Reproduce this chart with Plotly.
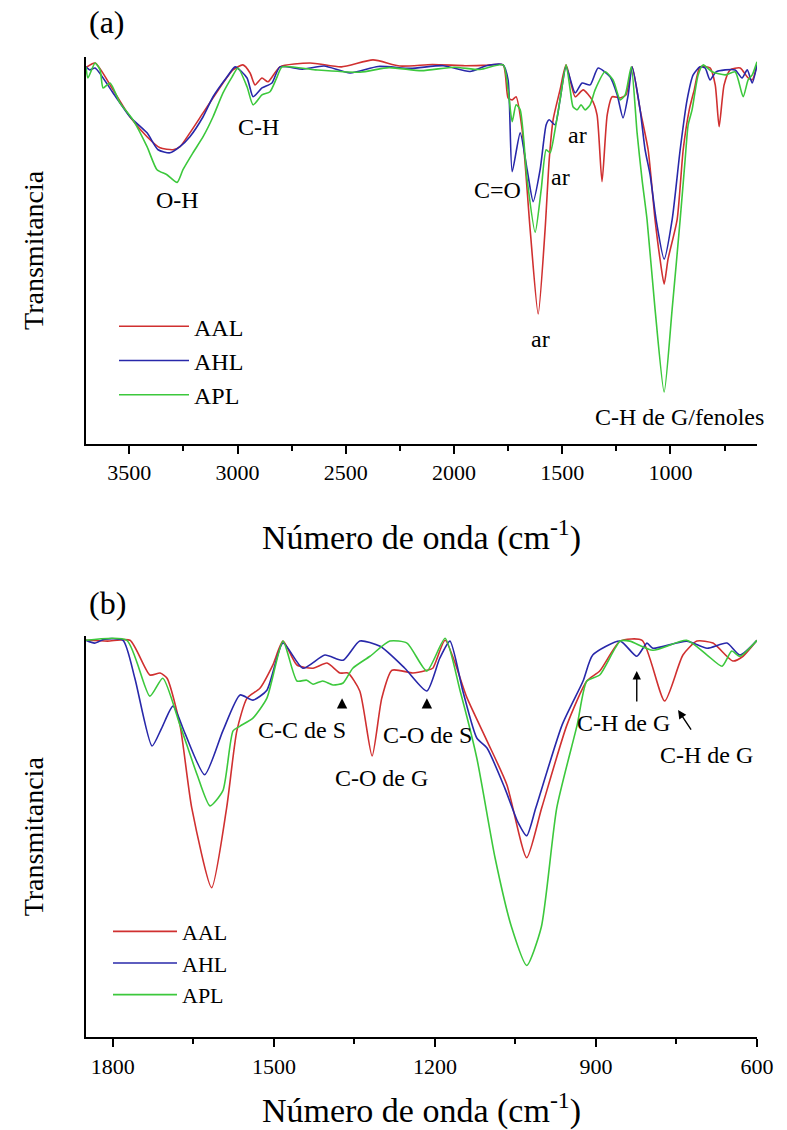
import plotly.graph_objects as go

# ---------------- FTIR spectra, panel (a): 3700-600 cm-1 ----------------
a_aal_wn = [3700, 3658, 3575, 3497, 3418, 3358, 3298, 3266, 3220, 3159, 3113, 3067, 3021, 2975, 2942,
            2919, 2887, 2859, 2804, 2665, 2520, 2374, 2250, 2100, 1950, 1850, 1773, 1750, 1731, 1713,
            1685, 1648, 1611, 1579, 1560, 1542, 1510, 1482, 1440, 1403, 1362, 1339, 1316, 1292, 1269,
            1232, 1205, 1177, 1140, 1103, 1071, 1048, 1029, 1011, 969, 941, 913, 890, 863, 817,
            793, 775, 752, 724, 678, 641, 622, 600]
a_aal_t = [98.0, 99.2, 92.2, 85.2, 80.0, 77.1, 76.6, 77.4, 81.0, 86.2, 90.1, 94.0, 97.4, 98.7, 96.6,
           93.5, 95.3, 94.3, 98.2, 99.2, 98.2, 100.0, 98.4, 98.8, 98.5, 98.6, 98.7, 90.1, 89.6, 90.4,
           81.8, 55.8, 33.8, 55.8, 74.0, 84.4, 92.2, 98.7, 90.4, 92.2, 89.6, 85.7, 68.3, 85.7, 90.4,
           90.1, 90.9, 98.2, 87.0, 76.6, 58.4, 48.1, 41.6, 48.1, 58.4, 76.6, 87.0, 92.2, 98.2, 97.9,
           93.5, 82.6, 93.5, 97.4, 97.9, 95.3, 94.8, 98.7]

a_ahl_wn = [3700, 3682, 3658, 3575, 3497, 3418, 3367, 3312, 3266, 3220, 3159, 3113, 3048, 3011, 2956,
            2928, 2887, 2841, 2804, 2700, 2600, 2480, 2350, 2200, 2050, 1926, 1850, 1773, 1750, 1731,
            1694, 1662, 1634, 1602, 1574, 1560, 1533, 1510, 1482, 1440, 1408, 1371, 1334, 1279, 1246,
            1219, 1195, 1177, 1140, 1117, 1094, 1066, 1029, 992, 955, 923, 895, 863, 840, 817,
            789, 747, 701, 669, 645, 622, 600]
a_ahl_t = [98.2, 97.4, 97.9, 91.4, 85.2, 81.0, 76.6, 75.8, 77.4, 80.0, 85.2, 90.4, 95.6, 98.2, 95.3,
           90.4, 92.7, 94.0, 98.2, 97.6, 98.4, 96.6, 98.3, 97.8, 98.5, 97.0, 98.5, 98.7, 94.8, 70.9,
           81.0, 71.4, 63.1, 71.4, 83.1, 84.4, 83.1, 89.6, 98.2, 91.4, 94.0, 93.5, 97.9, 95.6, 90.9,
           84.9, 90.9, 98.2, 87.0, 76.6, 70.1, 58.4, 48.1, 58.4, 76.6, 89.6, 96.1, 98.2, 97.9, 94.8,
           96.9, 97.4, 97.4, 95.3, 97.4, 94.0, 98.7]

a_apl_wn = [3700, 3691, 3658, 3635, 3621, 3589, 3543, 3483, 3418, 3372, 3326, 3279, 3252, 3206, 3159,
            3113, 3067, 3025, 2998, 2956, 2928, 2887, 2850, 2817, 2794, 2640, 2434, 2300, 2150, 2000,
            1880, 1773, 1750, 1731, 1713, 1694, 1662, 1625, 1597, 1574, 1556, 1533, 1510, 1482, 1463,
            1450, 1431, 1413, 1394, 1371, 1348, 1302, 1265, 1232, 1209, 1181, 1154, 1131, 1108, 1071,
            1029, 992, 955, 932, 918, 900, 872, 849, 807, 747, 701, 664, 641, 622, 600]
a_apl_t = [98.2, 95.3, 99.2, 97.4, 92.7, 94.0, 88.8, 84.4, 77.4, 71.4, 70.1, 68.1, 71.4, 75.8, 80.0,
           85.2, 91.4, 95.6, 97.9, 93.0, 88.3, 90.9, 91.7, 95.6, 98.2, 97.4, 96.8, 98.0, 97.2, 98.1,
           97.5, 98.7, 92.2, 83.9, 88.3, 87.0, 68.8, 55.1, 66.2, 76.6, 75.8, 81.8, 89.6, 98.7, 92.2,
           87.8, 87.0, 88.3, 87.0, 88.3, 92.2, 96.9, 94.8, 89.6, 90.9, 98.2, 81.0, 68.8, 58.4, 35.1,
           13.5, 35.1, 58.4, 74.0, 83.1, 87.0, 96.1, 98.7, 96.9, 96.1, 96.9, 90.4, 94.8, 96.1, 99.5]

# ---------------- FTIR spectra, panel (b): 1850-600 cm-1 ----------------
b_aal_wn = [1850, 1810, 1768, 1731, 1712, 1699, 1675, 1653, 1616, 1588, 1569, 1550, 1526, 1502, 1483,
            1457, 1427, 1401, 1377, 1362, 1340, 1317, 1299, 1280, 1241, 1215, 1204, 1181, 1140, 1103,
            1066, 1029, 1001, 954, 917, 893, 855, 814, 772, 738, 712, 682, 645, 626, 600]
b_aal_t = [99.5, 99.3, 99.5, 90.8, 91.3, 90.0, 78.3, 57.5, 37.5, 57.5, 76.8, 85.0, 87.5, 93.3, 99.3,
           93.3, 92.5, 93.8, 91.3, 91.3, 86.8, 70.5, 85.0, 92.0, 91.3, 92.0, 92.5, 99.5, 85.0, 74.3,
           63.3, 45.0, 57.5, 78.3, 89.3, 91.8, 99.3, 99.5, 84.3, 95.8, 99.3, 98.8, 94.3, 95.5, 99.5]

b_ahl_wn = [1850, 1834, 1815, 1781, 1759, 1727, 1709, 1688, 1666, 1629, 1595, 1563, 1539, 1513, 1483,
            1446, 1405, 1371, 1340, 1302, 1256, 1215, 1191, 1172, 1148, 1122, 1103, 1070, 1045, 1029,
            1012, 963, 924, 906, 855, 824, 805, 794, 731, 693, 656, 632, 600]
b_ahl_t = [99.5, 98.8, 99.8, 99.5, 90.0, 73.0, 77.5, 83.0, 76.3, 65.8, 76.8, 85.8, 84.5, 87.0, 98.8,
           92.5, 95.8, 94.5, 99.3, 98.0, 92.5, 86.8, 95.0, 99.3, 86.8, 75.0, 72.5, 62.5, 53.8, 50.5,
           57.5, 78.3, 89.3, 95.8, 99.3, 95.5, 98.8, 97.5, 99.3, 97.5, 98.8, 95.8, 99.5]

b_apl_wn = [1850, 1774, 1731, 1707, 1675, 1643, 1619, 1595, 1576, 1563, 1539, 1513, 1483, 1457, 1439,
            1427, 1409, 1390, 1371, 1353, 1321, 1284, 1252, 1215, 1181, 1153, 1122, 1088, 1057, 1029,
            1002, 973, 935, 917, 893, 855, 837, 794, 731, 693, 665, 647, 632, 600]
b_apl_t = [99.5, 99.5, 85.5, 90.0, 78.3, 65.8, 58.0, 61.8, 76.8, 78.0, 80.0, 85.0, 99.3, 89.3, 89.5,
           88.5, 89.3, 88.3, 88.8, 92.5, 95.5, 99.3, 98.8, 91.8, 100.0, 86.8, 70.0, 45.0, 27.5, 18.0,
           27.5, 57.5, 78.3, 89.3, 90.8, 99.3, 99.3, 97.0, 99.5, 95.8, 93.0, 96.8, 95.5, 99.5]

series_names = ["AAL", "AHL", "APL"]
series_colors = ["#D03030", "#2828AA", "#3CC83C"]

FONT = "Liberation Serif, Times New Roman, serif"
W, H = 787, 1130

fig = go.Figure()

panel_a = [(a_aal_wn, a_aal_t), (a_ahl_wn, a_ahl_t), (a_apl_wn, a_apl_t)]
panel_b = [(b_aal_wn, b_aal_t), (b_ahl_wn, b_ahl_t), (b_apl_wn, b_apl_t)]

for (wn, t), name, color in zip(panel_a, series_names, series_colors):
    fig.add_trace(go.Scatter(x=wn, y=t, mode="lines", name=name,
                             line=dict(color=color, width=1.6, shape="spline", smoothing=0.6),
                             xaxis="x", yaxis="y", legend="legend", legendgroup="a" + name))
for (wn, t), name, color in zip(panel_b, series_names, series_colors):
    fig.add_trace(go.Scatter(x=wn, y=t, mode="lines", name=name,
                             line=dict(color=color, width=1.6, shape="spline", smoothing=0.6),
                             xaxis="x2", yaxis="y2", legend="legend2", legendgroup="b" + name))


def px(pixel_x):
    """Paper fraction for a pixel column counted from the left of the figure."""
    return pixel_x / W


def py(pixel_y):
    """Paper fraction for a pixel row counted from the top of the figure."""
    return 1 - pixel_y / H


xdom = [px(86), px(757)]
axis_common = dict(showline=True, linecolor="black", linewidth=2, showgrid=False, zeroline=False,
                   mirror=False)
# x axes may only grow the margins vertically: the "600" label at the right end
# must not shrink the plotting area sideways
xt_common = dict(ticks="outside", ticklen=8, tickwidth=2, tickcolor="black", automargin="height",
                 tickfont=dict(family=FONT, size=22, color="black"),
                 title_font=dict(family=FONT, size=34, color="black"))
yt_common = dict(showticklabels=False, ticks="",
                 title_font=dict(family=FONT, size=28, color="black"))

fig.update_layout(
    width=W, height=H, autosize=False,
    margin=dict(l=0, r=0, t=0, b=0),
    paper_bgcolor="white", plot_bgcolor="white",
    font=dict(family=FONT, color="black"),
    xaxis=dict(domain=xdom, anchor="y", range=[3700, 600], tick0=0, dtick=500,
               minor=dict(ticks="outside", ticklen=5, tickwidth=2, tickcolor="black", tick0=0, dtick=250),
               title=dict(text="Número de onda (cm<sup>-1</sup>)", standoff=41),
               **axis_common, **xt_common),
    yaxis=dict(domain=[py(445), py(57)], anchor="x", range=[0, 100.8],
               title=dict(text="Transmitancia", standoff=32), **axis_common, **yt_common),
    xaxis2=dict(domain=xdom, anchor="y2", range=[1850, 600], tick0=0, dtick=300,
                minor=dict(ticks="outside", ticklen=5, tickwidth=2, tickcolor="black", tick0=0, dtick=150),
                title=dict(text="Número de onda (cm<sup>-1</sup>)", standoff=28),
                **axis_common, **xt_common),
    yaxis2=dict(domain=[py(1040), py(638)], anchor="x2", range=[0, 100.5],
                title=dict(text="Transmitancia", standoff=32), **axis_common, **yt_common),
    legend=dict(x=px(114), y=py(305), xanchor="left", yanchor="top",
                bgcolor="rgba(0,0,0,0)", font=dict(family=FONT, size=24, color="black"),
                itemwidth=70, tracegroupgap=0),
    legend2=dict(x=px(108), y=py(913), xanchor="left", yanchor="top",
                 bgcolor="rgba(0,0,0,0)", font=dict(family=FONT, size=22, color="black"),
                 itemwidth=64, tracegroupgap=0),
)

ann_font = dict(family=FONT, size=24, color="black")

# band labels, panel (a)
labels_a = [("O-H", 3275, 63.6), ("C-H", 2905, 82.6), ("C=O", 1801, 66.2), ("ar", 1510, 69.4),
            ("ar", 1427, 80.5), ("ar", 1602, 27.3), ("C-H de G/fenoles", 960, 7.0)]
for text, x, y in labels_a:
    fig.add_annotation(x=x, y=y, xref="x", yref="y", text=text, showarrow=False, font=ann_font)

# band labels, panel (b)
labels_b = [("C-C de S", 1448, 77.0), ("C-O de G", 1299, 65.0), ("C-O de S", 1213, 75.8),
            ("C-H de G", 848, 78.8), ("C-H de G", 695, 70.8)]
for text, x, y in labels_b:
    fig.add_annotation(x=x, y=y, xref="x2", yref="y2", text=text, showarrow=False, font=ann_font)

# pointers, panel (b)
for x, y in [(1373, 85.0), (1215, 85.0)]:
    fig.add_annotation(x=x, y=y, xref="x2", yref="y2", text="", showarrow=True, ax=0, ay=10,
                       arrowhead=2, arrowsize=1.3, arrowwidth=1.6, arrowcolor="black", standoff=0)
fig.add_annotation(x=824, y=91.8, xref="x2", yref="y2", text="", showarrow=True,
                   axref="x2", ayref="y2", ax=824, ay=83.8,
                   arrowhead=2, arrowsize=1.2, arrowwidth=1.4, arrowcolor="black", standoff=0)
fig.add_annotation(x=747, y=82.0, xref="x2", yref="y2", text="", showarrow=True, ax=14, ay=21,
                   arrowhead=2, arrowsize=1.2, arrowwidth=1.4, arrowcolor="black", standoff=0)

# panel letters
fig.add_annotation(x=px(87), y=py(22), xref="paper", yref="paper", text="(a)",
                   showarrow=False, xanchor="left", yanchor="middle",
                   font=dict(family=FONT, size=32, color="black"))
fig.add_annotation(x=px(87), y=py(605), xref="paper", yref="paper", text="(b)",
                   showarrow=False, xanchor="left", yanchor="middle",
                   font=dict(family=FONT, size=32, color="black"))

fig.write_html("out.html")
